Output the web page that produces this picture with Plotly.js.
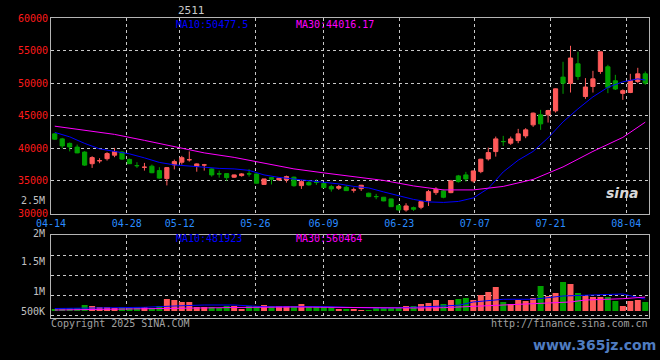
<!DOCTYPE html>
<html><head><meta charset="utf-8">
<script src="https://cdn.plot.ly/plotly-3.0.1.min.js"></script>
<style>html,body{margin:0;padding:0;background:#000;}#chart{width:660px;height:360px;}</style>
</head><body><div id="chart"></div>
<script>
// ---- data ----
const dates = ['04-14','04-15','04-16','04-17','04-18','04-21','04-22','04-23','04-24','04-25',
  '04-28','04-29','04-30','05-06','05-07','05-08','05-09','05-12','05-13','05-14',
  '05-15','05-16','05-19','05-20','05-21','05-22','05-23','05-26','05-27','05-28',
  '05-29','05-30','06-03','06-04','06-05','06-06','06-09','06-10','06-11','06-12',
  '06-13','06-16','06-17','06-18','06-19','06-20','06-23','06-24','06-25','06-26',
  '06-27','06-30','07-01','07-02','07-03','07-04','07-07','07-08','07-09','07-10',
  '07-11','07-14','07-15','07-16','07-17','07-18','07-21','07-22','07-23','07-24',
  '07-25','07-28','07-29','07-30','07-31','08-01','08-04','08-05','08-06','08-07'];
const openP = [42220,41450,40760,40190,39425,37640,38085,38410,38950,39425,
  38300,37350,37090,37260,36580,35355,37460,37870,38240,37225,
  37440,36845,36090,36120,35570,35815,36090,36075,34460,35505,
  35155,35155,35570,34280,34770,34815,34615,34125,33880,34030,
  33600,33815,33110,32600,32495,32235,31205,30545,30900,30960,
  31975,33205,33465,33205,35770,35920,35000,36430,38380,39500,
  41050,40790,41190,41910,43600,45140,45140,45750,50930,49975,
  52970,47950,49485,51790,52510,50360,48440,48565,50250,51435];
const highP = [42295,41605,40885,40575,39560,38795,38485,39410,40070,39560,
  38425,37870,37765,37505,37105,37105,38270,38840,39530,37690,
  37610,36950,36580,36150,35970,36185,36795,36120,35305,35540,
  35460,35815,35660,35155,35045,35260,34740,34385,34385,34280,
  33970,34385,33205,33005,32540,32280,31465,31575,31055,31850,
  33620,34030,33725,35155,35920,36380,36580,38380,40115,41805,
  41910,41805,42985,43095,45490,45905,45905,49175,53280,55735,
  54815,50775,51895,54815,52820,51280,49055,51435,52355,51790];
const lowP = [41300,39990,39530,39255,37305,36995,37720,38120,38640,38225,
  37610,36995,36580,36185,35355,34310,36765,37505,37965,36415,
  36580,35660,35505,35000,35460,35660,35660,34615,34430,34460,
  35045,34740,34125,33770,34280,34385,33925,33355,33620,33510,
  33205,33465,32495,32190,31880,31005,30440,30285,30390,30655,
  31160,32850,32345,33110,34740,34890,34740,36185,38120,38730,
  40375,40530,40790,41560,43295,42835,43955,45490,48365,48565,
  50515,47595,48565,51435,48470,48950,47440,48470,50005,49745];
const closeP = [41405,40375,40220,39300,37425,38580,38105,39195,39500,38350,
  37640,37335,37105,36260,35430,37045,37965,38565,38255,37610,
  37460,35920,36075,35505,35920,36075,36075,34645,35305,35260,
  35415,35660,34265,34890,34385,34800,33970,33770,34125,33510,
  33620,34340,32590,32590,31930,31050,30545,31160,30655,31820,
  33355,33725,32495,35000,34890,35305,36535,38335,39345,41450,
  41035,41450,42220,42835,45400,43755,45800,49130,50005,53860,
  51020,49410,50665,54815,49360,49100,48855,50390,51435,50005];
const volume = [81000,121000,121000,121000,242000,202000,161000,161000,121000,161000,
  121000,161000,161000,121000,202000,484000,443000,363000,363000,161000,
  161000,161000,121000,202000,202000,81000,202000,202000,242000,202000,
  202000,202000,202000,282000,161000,202000,161000,161000,81000,81000,
  81000,40000,40000,121000,121000,121000,121000,202000,202000,282000,
  322000,443000,282000,443000,484000,524000,443000,645000,766000,967000,
  363000,282000,443000,403000,524000,1008000,605000,725000,1169000,1088000,
  725000,605000,564000,564000,564000,403000,202000,403000,443000,363000];
// moving-average lines, read at sampled trading days (index into dates)
const ma10Idx = [0,2,4,6,8,10,12,14,16,18,20,22,24,26,28,30,32,34,36,38,40,42,44,46,48,50,52,54,56,58,60,62,64,66,68,70,72,74,76,78,79];
const ma10Val = [42450,41760,40760,39915,39530,39150,38535,37840,37460,37225,37105,36920,36845,36615,35920,35540,35305,35075,34845,34540,34155,33925,33310,32695,32160,31775,31700,31850,32390,33850,36380,38180,39530,41605,44060,46060,47900,49360,50205,50665,50477.5];
const ma30Idx = [0,4,8,12,16,20,24,28,32,36,40,44,48,52,56,60,64,68,72,76,79];
const ma30Val = [43400,42755,42140,41220,40220,39300,38610,37690,36845,36230,35690,35075,34230,33620,33620,34155,35230,37150,39530,41680,44016.17];
const vma10Idx = [0,4,8,12,16,20,24,28,32,36,40,44,48,52,54,56,58,60,64,66,68,70,72,74,76,77,78,79];
const vma10Val = [100000,121000,133000,149000,201000,242000,242000,173000,173000,181000,141000,121000,149000,189000,230000,363000,415000,472000,472000,552000,605000,625000,657000,665000,685000,605000,544000,481923];
const vma30Idx = [0,8,16,24,32,40,44,48,52,56,59,62,64,67,69,71,74,76,79];
const vma30Val = [40000,81000,121000,141000,161000,141000,121000,121000,133000,181000,230000,254000,282000,322000,363000,443000,472000,496000,560464];
const labelDates = ['04-14','04-28','05-12','05-26','06-09','06-23','07-07','07-21','08-04'];
const priceTicks = [30000,35000,40000,45000,50000,55000,60000];

// ---- drawing ----
const W = 660, H = 360, M = {l:51, r:11, t:18, b:42};
const pw = W - M.l - M.r, ph = H - M.t - M.b;
const py = y => (H - M.b - y) / ph;   // pixel row -> paper y
const px = x => (x - M.l) / pw;        // pixel col -> paper x
const xi = dates.map((d, i) => i);
const n = dates.length;
// date grid lines sit at day boundaries on an (n-1)-slot grid, as in the original
const tickPos = labelDates.map(d => -0.5 + dates.indexOf(d) * n / (n - 1));
const RED = '#ff5a5a', GREEN = '#00a000';
const volColors = closeP.map((c, i) => c >= openP[i] ? RED : GREEN);
const mono = 'DejaVu Sans Mono';
const GRID = '#c8c8c8', FRAME = '#b4b4b4';

const traces = [
  {type:'candlestick', x:xi, open:openP, high:highP, low:lowP, close:closeP,
   increasing:{line:{color:RED, width:1}, fillcolor:RED},
   decreasing:{line:{color:GREEN, width:1}, fillcolor:GREEN},
   whiskerwidth:0, xaxis:'x', yaxis:'y', hoverinfo:'skip', showlegend:false},
  {type:'scatter', mode:'lines', x:ma10Idx, y:ma10Val, line:{color:'#0000ff', width:1},
   xaxis:'x', yaxis:'y', hoverinfo:'skip', showlegend:false},
  {type:'scatter', mode:'lines', x:ma30Idx, y:ma30Val, line:{color:'#ff00ff', width:1},
   xaxis:'x', yaxis:'y', hoverinfo:'skip', showlegend:false},
  {type:'bar', x:xi, y:volume, marker:{color:volColors, line:{width:0}},
   xaxis:'x2', yaxis:'y2', hoverinfo:'skip', showlegend:false},
  {type:'scatter', mode:'lines', x:vma10Idx, y:vma10Val, line:{color:'#0000ff', width:1},
   xaxis:'x2', yaxis:'y2', hoverinfo:'skip', showlegend:false},
  {type:'scatter', mode:'lines', x:vma30Idx, y:vma30Val, line:{color:'#ff00ff', width:1},
   xaxis:'x2', yaxis:'y2', hoverinfo:'skip', showlegend:false}
];

const volPerPx = 40300;               // volume units per pixel in the lower panel
const volZeroRow = 311, volTopRow = 234.7, volBotRow = 318;
const xCommon = {range:[-0.5, n - 0.5], tickmode:'array', tickvals:tickPos,
  showgrid:true, gridcolor:GRID, griddash:'dot', gridwidth:1,
  showline:true, linecolor:FRAME, linewidth:1, mirror:true, ticks:'', zeroline:false,
  fixedrange:true};

const layout = {
  width:W, height:H, margin:{l:M.l, r:M.r, t:M.t, b:M.b, pad:0},
  paper_bgcolor:'#000', plot_bgcolor:'#000', showlegend:false,
  font:{family:mono, size:10, color:'#c0c0c0'},
  boxgap:0.2, bargap:0.2,
  xaxis:Object.assign({}, xCommon, {anchor:'y', ticktext:labelDates,
    tickfont:{family:mono, size:10, color:'#2a8cff'}, rangeslider:{visible:false}}),
  xaxis2:Object.assign({}, xCommon, {anchor:'y2', showticklabels:false}),
  yaxis:{domain:[py(213.5), 1], range:[30000, 60000], tickmode:'array', tickvals:priceTicks,
    ticktext:priceTicks.map(String), tickfont:{family:mono, size:10, color:'#ff1a1a'},
    showgrid:true, gridcolor:GRID, griddash:'dot', gridwidth:1,
    showline:true, linecolor:FRAME, mirror:true, ticks:'', zeroline:false, fixedrange:true},
  yaxis2:{domain:[0, py(volTopRow)],
    range:[-(volBotRow - volZeroRow) * volPerPx, (volZeroRow - volTopRow) * volPerPx],
    tickmode:'linear', tick0:(volZeroRow - 295.3) * volPerPx, dtick:20 * volPerPx,
    showticklabels:false, showgrid:true, gridcolor:GRID, griddash:'dot', gridwidth:1,
    showline:true, linecolor:FRAME, mirror:true, ticks:'', zeroline:false, fixedrange:true},
  annotations:[]
};

function note(text, x, y, color, xanchor, size, extra) {
  layout.annotations.push(Object.assign({text:text, xref:'paper', yref:'paper', x:x, y:y,
    xanchor:xanchor || 'left', yanchor:'middle', showarrow:false,
    font:{family:mono, size:size || 10, color:color}}, extra || {}));
}
note('2511', px(191), py(10), '#c8c8c8', 'center', 11);
note('MA10:50477.5', px(174), py(24), '#0000ff');
note('MA30:44016.17', px(294), py(24), '#ff00ff');
note('MA10:481923', px(174), py(238), '#0000ff');
note('MA30:560464', px(294), py(238), '#ff00ff');
[['2.5M',200],['2M',233.5],['1.5M',261],['1M',291],['500K',311]].forEach(v =>
  note(v[0], px(47), py(v[1]), '#c0c0c0', 'right', 10));
note('Copyright 2025 SINA.COM', px(49), py(323.5), '#a0a0a0');
note('http://finance.sina.com.cn', px(650), py(323.5), '#a0a0a0', 'right');
note('<b><i>sina</i></b>', px(622), py(193), '#d8d8d8', 'center', 14, {font:{family:'DejaVu Sans', size:14, color:'#d8d8d8'}});
note('<b>www.365jz.com</b>', px(594), py(345), '#4f7cc0', 'center', 14, {font:{family:'DejaVu Sans', size:14, color:'#4f7cc0'}});

Plotly.newPlot('chart', traces, layout, {staticPlot:true, displayModeBar:false});
</script></body></html>
